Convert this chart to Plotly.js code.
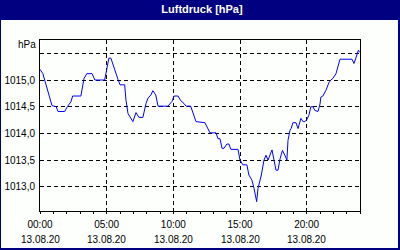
<!DOCTYPE html>
<html>
<head>
<meta charset="utf-8">
<script src="https://cdn.plot.ly/plotly-3.0.1.min.js"></script>
<style>
  html, body { margin: 0; padding: 0; background: #000080; }
  #frame { position: relative; width: 400px; height: 250px; background: #000080; overflow: hidden; }
  #inner { position: absolute; left: 1px; top: 20px; width: 397px; height: 228px; background: #fcfffc; }
  #chart { position: absolute; left: 0; top: 0; width: 400px; height: 250px; }
</style>
</head>
<body>
<div id="frame"><div id="inner"></div><div id="chart"></div></div>
<script>
// Data (13.08.20)
var times = ["00:00","00:13","00:21","00:54","01:13","01:21","01:51","02:03","02:19","02:27",
  "03:04","03:18","03:31","03:54","04:07","04:51","05:10","05:19","05:51","06:00",
  "06:21","06:27","06:36","06:48","06:58","07:12","07:25","07:43","07:57","08:06",
  "08:19","08:28","08:41","08:51","09:36","09:54","10:03","10:21","10:34","10:48",
  "10:57","11:18","11:33","11:42","12:22","12:45","13:12","13:21","13:30","13:39",
  "13:48","14:01","14:10","14:19","14:51","15:00","15:13","15:31","15:40","15:54",
  "16:03","16:12","16:15","16:21","16:35","16:48","16:57","17:06","17:18","17:24",
  "17:42","17:51","18:00","18:11","18:22","18:31","18:36","18:45","18:50","18:58",
  "19:12","19:21","19:34","19:44","19:52","20:01","20:10","20:19","20:28","20:37",
  "20:51","21:00","21:04","21:13","21:27","21:40","21:49","21:58","22:12","22:21",
  "22:30","23:24","23:33","23:46","23:53","23:58"];
var pressure = [1015.20,1015.12,1015.00,1014.52,1014.50,1014.41,1014.41,1014.50,1014.59,1014.70,
  1014.70,1015.03,1015.12,1015.12,1015.00,1015.00,1015.41,1015.41,1015.01,1014.91,
  1014.91,1014.62,1014.37,1014.28,1014.22,1014.39,1014.30,1014.30,1014.56,1014.66,
  1014.72,1014.80,1014.72,1014.51,1014.51,1014.60,1014.70,1014.70,1014.61,1014.56,
  1014.51,1014.51,1014.31,1014.22,1014.20,1014.01,1014.01,1013.90,1013.90,1013.72,
  1013.72,1013.80,1013.80,1013.70,1013.70,1013.50,1013.41,1013.41,1013.22,1013.12,
  1012.97,1012.75,1012.72,1012.97,1013.20,1013.50,1013.59,1013.50,1013.62,1013.69,
  1013.31,1013.31,1013.52,1013.68,1013.59,1013.50,1013.87,1014.06,1014.09,1014.20,
  1014.20,1014.09,1014.28,1014.22,1014.22,1014.26,1014.34,1014.50,1014.50,1014.43,
  1014.41,1014.55,1014.68,1014.70,1014.81,1014.95,1015.00,1015.03,1015.12,1015.28,
  1015.39,1015.39,1015.31,1015.47,1015.56,1015.52];
var day = "2020-08-13";
var xTickHours = ["00:00","05:00","10:00","15:00","20:00"];
var xTickDate = "13.08.20";
var yTickVals = [1013.0,1013.5,1014.0,1014.5,1015.0,1015.5];
var yTickText = ["1013,0","1013,5","1014,0","1014,5","1015,0",""];
var yUnit = "hPa";
var titleText = "Luftdruck [hPa]";

var xs = times.map(function(t){ return day + " " + t; });
var xTickVals = xTickHours.map(function(t){ return day + " " + t; });

var fontFam = "Liberation Sans, Arial, sans-serif";

var trace = {
  x: xs, y: pressure, type: "scatter", mode: "lines",
  line: {color: "#0000ff", width: 1}, hoverinfo: "skip"
};

var annotations = xTickVals.map(function(v){
  return {x: v, xref: "x", y: -0.164, yref: "paper", text: xTickDate,
    showarrow: false, xanchor: "center", yanchor: "middle",
    font: {family: fontFam, size: 10, color: "#000"}};
});
annotations.push({x: -0.006, xref: "paper", y: 0.971, yref: "paper", text: yUnit,
  showarrow: false, xanchor: "right", yanchor: "middle",
  font: {family: fontFam, size: 10, color: "#000"}});

var layout = {
  width: 400, height: 250,
  margin: {l: 40, r: 40, t: 40, b: 39, pad: 0},
  paper_bgcolor: "rgba(0,0,0,0)",
  plot_bgcolor: "#fcfffc",
  showlegend: false,
  title: {text: "<b>" + titleText + "</b>", x: 0.505, xref: "container", xanchor: "center",
    y: 0.964, yref: "container", yanchor: "middle",
    font: {family: fontFam, size: 11, color: "#ffffff"}},
  xaxis: {
    type: "date",
    range: [day + " 00:00", "2020-08-14 00:00"],
    tickmode: "array", tickvals: xTickVals, ticktext: xTickHours,
    ticks: "outside", ticklen: 2, tickcolor: "#000", tickwidth: 1,
    minor: {dtick: 3600000, ticks: "outside", ticklen: 2, tickcolor: "#000", showgrid: false},
    showgrid: true, gridcolor: "#000", gridwidth: 1, griddash: "4px,3px",
    showline: true, linecolor: "#000", linewidth: 1, mirror: true,
    zeroline: false, fixedrange: true, ticklabelstandoff: 2,
    tickfont: {family: fontFam, size: 10, color: "#000"}
  },
  yaxis: {
    range: [1012.545, 1015.75],
    tickmode: "array", tickvals: yTickVals, ticktext: yTickText,
    ticks: "", showgrid: true, gridcolor: "#000", gridwidth: 1, griddash: "4px,3px",
    showline: true, linecolor: "#000", linewidth: 1, mirror: true,
    zeroline: false, fixedrange: true, ticklabelstandoff: 2,
    tickfont: {family: fontFam, size: 10, color: "#000"}
  },
  annotations: annotations
};

Plotly.newPlot("chart", [trace], layout, {displayModeBar: false, staticPlot: true});
</script>
</body>
</html>
